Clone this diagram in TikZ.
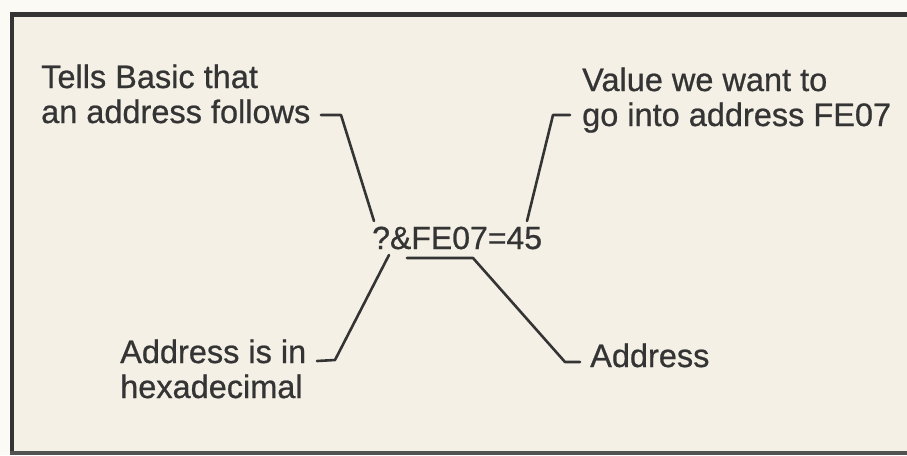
\documentclass[tikz,border=0pt]{standalone}
\usepackage{fontspec}
\setmainfont{Liberation Sans}[FakeBold=0.7]
\definecolor{paper}{HTML}{F4F0E6}
\definecolor{outer}{HTML}{FBFAF4}
\definecolor{ink}{HTML}{343434}
\begin{document}
\begin{tikzpicture}[x=1pt,y=-1pt,
  lbl/.style={inner sep=0pt,anchor=base west,text=ink,font=\fontsize{32.5}{38}\selectfont},
  exprstyle/.style={lbl,font=\fontsize{32}{38}\selectfont},
  lead/.style={draw=ink,line width=2.6pt,line join=round,line cap=round}]
\useasboundingbox (0,0) rectangle (907,455);
\fill[outer] (0,0) rectangle (907,455);
\fill[paper] (12,14) rectangle (907,452);
% frame
\draw[ink,line width=5pt] (12,14) -- (907,14);
\draw[ink,line width=4pt] (12,12) -- (12,455);
\draw[ink!85,line width=4pt] (10,453) -- (907,453);
% labels
\node[lbl] (tl1) at (41,88) {Tells Basic that};
\node[lbl] (tl2) at (41,123) {an address follows};
\node[lbl] (tr1) at (582,91) {Value we want to};
\node[lbl] (tr2) at (582,126) {go into address FE07};
\node[exprstyle] (expr) at (372,249) {?\&FE07=45};
\node[lbl] (bl1) at (120,363) {Address is in};
\node[lbl] (bl2) at (120,398) {hexadecimal};
\node[lbl] (br) at (590,367) {Address};
% connector points
\coordinate (a1) at (321,115);
\coordinate (a2) at (341,115);
\coordinate (a3) at (374,221);
\coordinate (b1) at (570,115);
\coordinate (b2) at (553,115);
\coordinate (b3) at (527,221);
\coordinate (u1) at (407,258);
\coordinate (u2) at (473,258);
\coordinate (u3) at (565,362);
\coordinate (u4) at (580,362);
\coordinate (c1) at (389,255);
\coordinate (c2) at (335,360);
\coordinate (c3) at (317,361);
\draw[lead] (a1) -- (a2) -- (a3);
\draw[lead] (b1) -- (b2) -- (b3);
\draw[lead] (u1) -- (u2) -- (u3) -- (u4);
\draw[lead] (c1) -- (c2) -- (c3);
\end{tikzpicture}
\end{document}
